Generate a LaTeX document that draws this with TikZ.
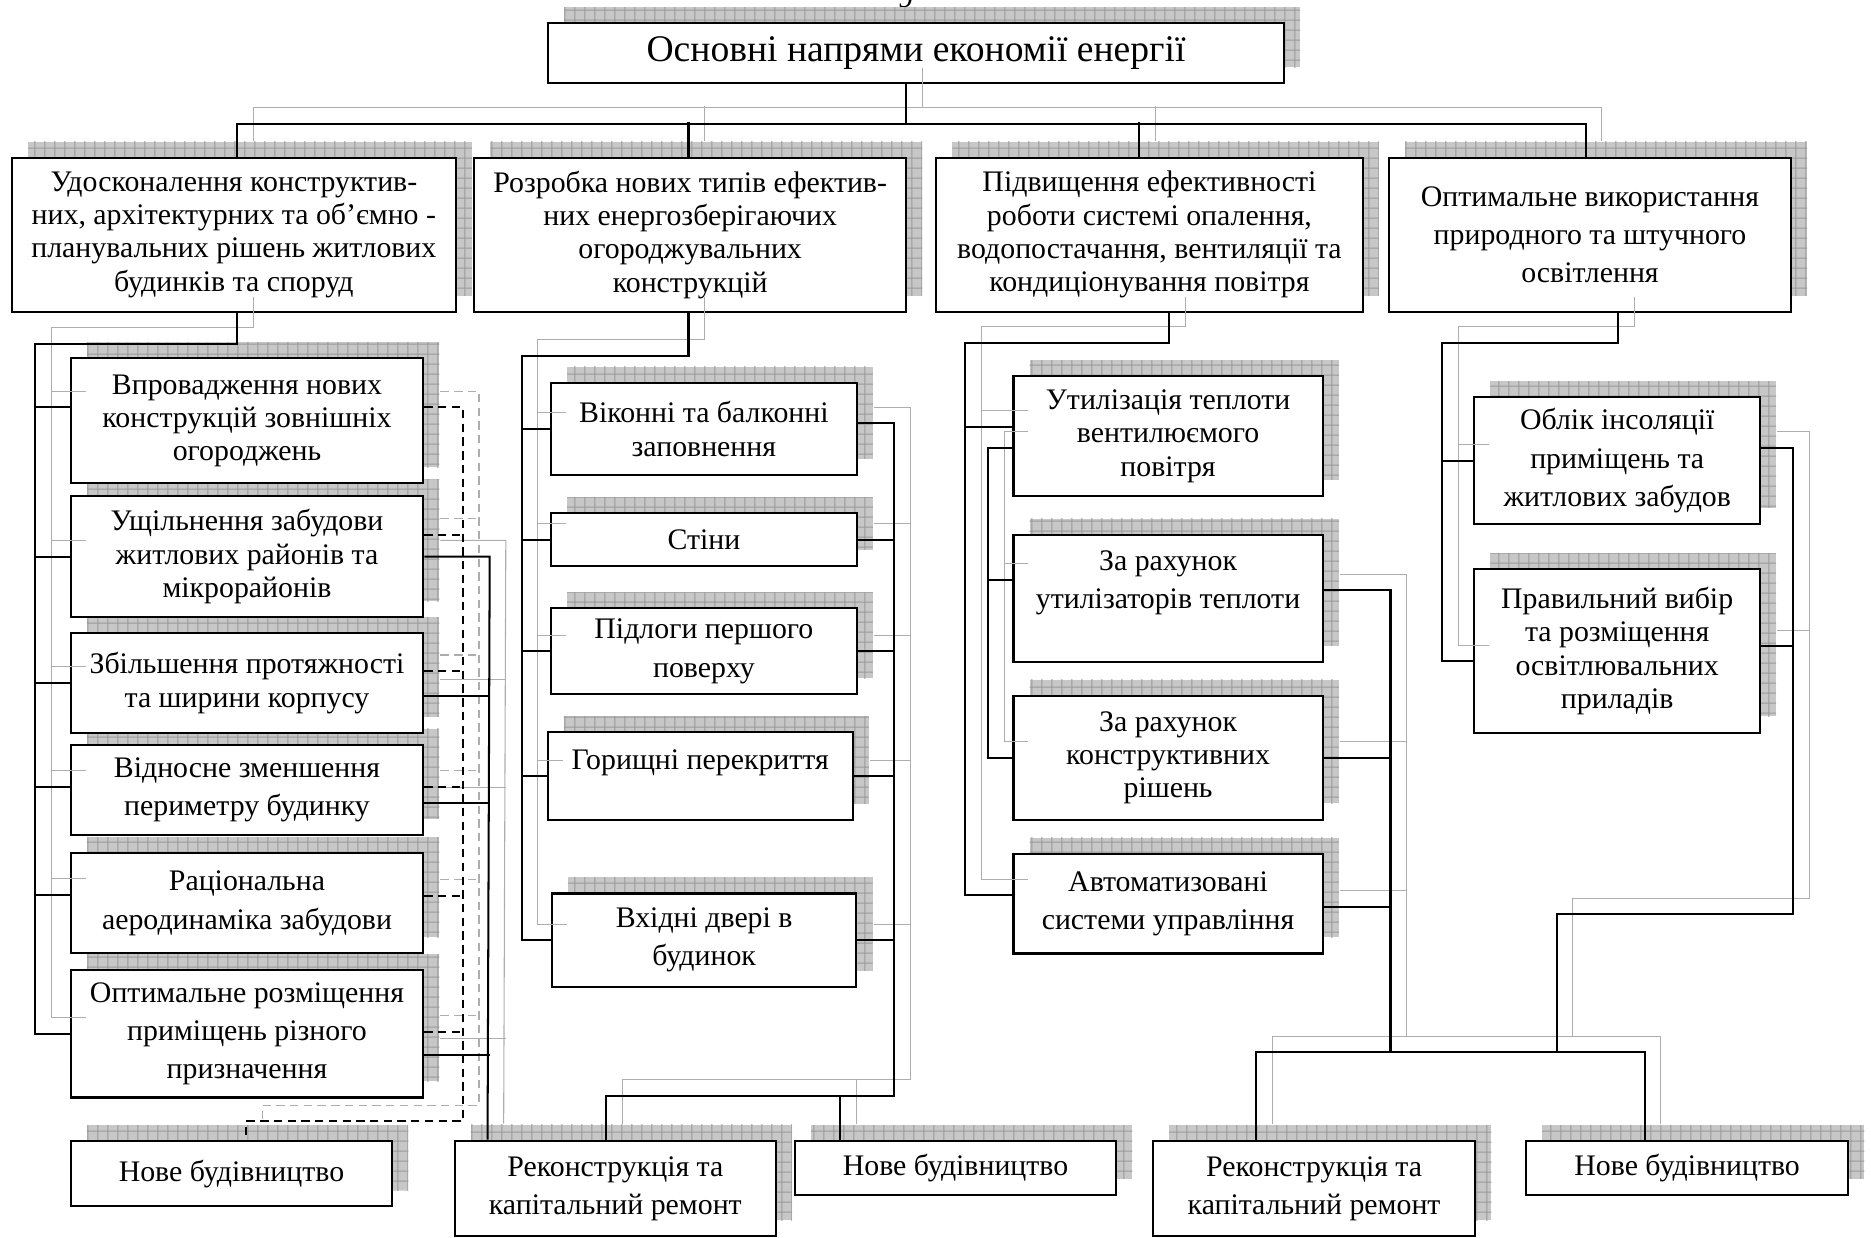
\documentclass[tikz,border=0pt]{standalone}
\usepackage{fontspec}
\setmainfont{Liberation Serif}
\usetikzlibrary{shadows, patterns.meta}

\newcommand\bodyfont{\fontsize{25}{28}\selectfont}
\newcommand\loosefont{\fontsize{25}{32}\selectfont}
\newcommand\titlefont{\fontsize{31.5}{36}\selectfont}

% darker grid inside the box shadows
\tikzdeclarepattern{
  name=shadegrid,
  type=uncolored,
  bounding box={(0pt,0pt) and (8.7pt,8.7pt)},
  tile size={(8.7pt,8.7pt)},
  code={\draw[line width=0.8pt] (0pt,4.35pt) -- (8.7pt,4.35pt) (4.35pt,0pt) -- (4.35pt,8.7pt);}
}

% all connectors, drawn twice (grey shadow copy, then black)
\newcommand\diagramlinks{%
  % title to the four directions
  \draw[conn] ([xshift=-8.1pt]T.south) -- ++(0,32.9) coordinate (tb);
  \draw[conn] ([xshift=2.7pt]A.north) |- (tb) -| ([xshift=-3.5pt]D.north);
  \draw[conn] ([xshift=-1.4pt]B.north) -- ++(0,-29.3);
  \draw[conn] ([xshift=-8.8pt]C.north) -- ++(0,-29.3);

  % first column, left trunk
  \draw[conn] ([xshift=2.7pt]A.south) -- ++(0,25.8) -| ([xshift=-28.8pt]a6.west) -- (a6.west);
  \draw[conn] ([xshift=-28.8pt,yshift=11.3pt]a1.west) -- ([yshift=11.3pt]a1.west);
  \draw[conn] (a2.west) -- ++(-28.8,0); \draw[conn] (a3.west) -- ++(-28.8,0);
  \draw[conn] ([yshift=2.8pt]a4.west) -- ++(-28.8,0); \draw[conn] ([yshift=7pt]a5.west) -- ++(-28.8,0);

  % first column, dashed to new building
  \draw[dconn] ([yshift=11.3pt]a1.east) -- ++(32.3,0) |- ([xshift=12.5pt,yshift=15.7pt]nA.north) -- ([xshift=12.5pt]nA.north);
  \draw[dconn] ([yshift=18pt]a2.east) -- ++(32.3,0); \draw[dconn] ([yshift=10pt]a3.east) -- ++(32.3,0);
  \draw[dconn] ([yshift=2.8pt]a4.east) -- ++(32.3,0); \draw[dconn] ([yshift=6.5pt]a5.east) -- ++(32.3,0);
  \draw[dconn] ([yshift=1.8pt]a6.east) -- ++(32.3,0);

  % first column, solid to reconstruction
  \draw[conn] (a2.east) -- ++(54.8,0) -- ([xshift=28.5pt]rA.north west);
  \draw[conn] ([yshift=-10.6pt]a3.east) -- ++(54.8,0); \draw[conn] ([yshift=-11.2pt]a4.east) -- ++(54.8,0);
  \draw[conn] ([yshift=-17.6pt]a6.east) -- ++(54.8,0);

  % second column
  \draw[conn] ([xshift=-1.4pt]B.south) -- ++(0,36) -| ([xshift=-24.4pt]b5.west) -- (b5.west);
  \draw[conn] (b1.west) -- ++(-23.7,0); \draw[conn] (b2.west) -- ++(-23.7,0);
  \draw[conn] (b3.west) -- ++(-23.7,0); \draw[conn] (b4.west) -- ++(-20.9,0);
  \draw[conn] ([yshift=4.6pt]b1.east) -- ++(30.7,0) |- ([xshift=-7.7pt,yshift=37pt]rA.north) -- ([xshift=-7.7pt]rA.north);
  \draw[conn] ([xshift=39pt]nB.north west) -- ++(0,-37.3);
  \draw[conn] (b2.east) -- ++(30.7,0); \draw[conn] (b3.east) -- ++(30.7,0);
  \draw[conn] (b4.east) -- ++(34.1,0); \draw[conn] (b5.east) -- ++(31,0);

  % third column
  \draw[conn] ([xshift=16.4pt]C.south) -- ++(0,25) -| ([xshift=-39.3pt,yshift=7pt]c4.west) -- ([yshift=7pt]c4.west);
  \draw[conn] ([yshift=7.8pt]c1.west) -- ++(-39.3,0);
  \draw[conn] ([yshift=-9.7pt]c1.west) -- ++(-20.3,0) |- (c3.west);
  \draw[conn] ([yshift=15.5pt]c2.west) -- ++(-20.3,0);
  \draw[conn] ([yshift=6.9pt]c2.east) -- ++(55.9,0) |- ([xshift=-48.4pt,yshift=73.5pt]rC.north) coordinate (jR) -- ([xshift=-48.4pt]rC.north);
  \draw[conn] (jR) -| ([xshift=-35.5pt]nC.north);
  \draw[conn] (c3.east) -- ++(55.9,0); \draw[conn] ([yshift=-2.3pt]c4.east) -- ++(55.9,0);

  % fourth column
  \draw[conn] ([xshift=23.8pt]D.south) -- ++(0,25) -| ([xshift=-26pt,yshift=-8.8pt]d2.west) -- ([yshift=-8.8pt]d2.west);
  \draw[conn] (d1.west) -- ++(-26,0);
  \draw[conn] ([yshift=10.7pt]d1.east) -- ++(27,0) -- ++(0,391) -| (dj |- jR);
  \draw[conn] ([yshift=3.8pt]d2.east) -- ++(27,0);
}

\begin{document}
\begin{tikzpicture}[x=1pt, y=-1pt,
    box/.style={draw, line width=1.8pt, fill=white, align=center, inner sep=0pt, font=\bodyfont,
      general shadow={shadow xshift=13.5pt, shadow yshift=13.5pt, fill=black!22},
      general shadow={shadow xshift=13.5pt, shadow yshift=13.5pt, pattern=shadegrid, pattern color=black!40}},
    conn/.style={line width=1.7pt},
    dconn/.style={conn, dash pattern=on 7pt off 4.5pt}]
    \useasboundingbox (0,0) rectangle (1568,1036.7);

    % page number, mostly cut off
    \node[font=\bodyfont, anchor=base] (pg) at (759,6) {9};

    % title and the four directions
    \node[box, font=\titlefont, minimum width=616.7pt, minimum height=50.3pt] (T) at (767.7,44.7) {Основні напрями економії енергії};
    \node[box, minimum width=372pt, minimum height=129pt] (A) at (196,196.7) {Удосконалення конструктив-\\них, архітектурних та об’ємно -\\планувальних рішень житлових\\будинків та споруд};
    \node[box, minimum width=362pt, minimum height=129pt] (B) at (578.4,196.7) {Розробка нових типів ефектив-\\них енергозберігаючих\\огороджувальних\\конструкцій};
    \node[box, minimum width=357.5pt, minimum height=129pt] (C) at (963.3,196.7) {Підвищення ефективності\\роботи системі опалення,\\водопостачання, вентиляції та\\кондиціонування повітря};
    \node[box, font=\loosefont, minimum width=337pt, minimum height=129pt] (D) at (1332.5,196.7) {Оптимальне використання\\природного та штучного\\освітлення};

    % first column (bottom first, so upper boxes cover the shadows below)
    \node[box, font=\loosefont, minimum width=295.4pt, minimum height=106.7pt] (a6) at (207,866.4) {Оптимальне розміщення\\приміщень різного\\призначення};
    \node[box, font=\loosefont, minimum width=295.4pt, minimum height=83.8pt] (a5) at (207,757.1) {Раціональна\\аеродинаміка забудови};
    \node[box, font=\loosefont, minimum width=295.4pt, minimum height=75.4pt] (a4) at (207,662.1) {Відносне зменшення\\периметру будинку};
    \node[box, minimum width=295.4pt, minimum height=83.2pt] (a3) at (207,572.4) {Збільшення протяжності\\та ширини корпусу};
    \node[box, minimum width=295.4pt, minimum height=102pt] (a2) at (207,466.4) {Ущільнення забудови\\житлових районів та\\мікрорайонів};
    \node[box, minimum width=295.4pt, minimum height=104.7pt] (a1) at (207,352.7) {Впровадження нових\\конструкцій зовнішніх\\огороджень};

    % second column
    \node[box, font=\loosefont, minimum width=255.2pt, minimum height=78.3pt] (b5) at (590.1,787.9) {Вхідні двері в\\будинок};
    \node[box, minimum width=255.6pt, minimum height=73.4pt] (b4) at (586.8,650.5) {Горищні перекриття\\\mbox{}};
    \node[box, font=\loosefont, minimum width=256.2pt, minimum height=72.1pt] (b3) at (589.9,545.9) {Підлоги першого\\поверху};
    \node[box, minimum width=256.2pt, minimum height=44.2pt] (b2) at (589.9,452.3) {Стіни};
    \node[box, minimum width=256.2pt, minimum height=77.3pt] (b1) at (589.9,359.4) {Віконні та балконні\\заповнення};

    % third column
    \node[box, font=\loosefont, minimum width=259.2pt, minimum height=83.3pt] (c4) at (978.9,757.4) {Автоматизовані\\системи управління};
    \node[box, minimum width=259.2pt, minimum height=103.7pt] (c3) at (978.9,635) {За рахунок\\конструктивних\\рішень};
    \node[box, font=\loosefont, minimum width=259.2pt, minimum height=106.6pt] (c2) at (978.9,501.5) {За рахунок\\утилізаторів теплоти\\\mbox{}};
    \node[box, minimum width=259.2pt, minimum height=100.3pt] (c1) at (978.9,365.6) {Утилізація теплоти\\вентилюємого\\повітря};

    % fourth column
    \node[box, minimum width=239.4pt, minimum height=136.9pt] (d2) at (1355.3,545.5) {Правильний вибір\\та розміщення\\освітлювальних\\приладів};
    \node[box, font=\loosefont, minimum width=239.4pt, minimum height=106.1pt] (d1) at (1355.3,386) {Облік інсоляції\\приміщень та\\житлових забудов};

    % bottom row
    \node[box, minimum width=269.3pt, minimum height=54.5pt] (nA) at (194,983.6) {Нове будівництво};
    \node[box, font=\loosefont, minimum width=269.4pt, minimum height=80pt] (rA) at (515.7,996) {Реконструкція та\\капітальний ремонт};
    \node[box, minimum width=269.5pt, minimum height=45.2pt] (nB) at (800.8,978.9) {Нове будівництво};
    \node[box, font=\loosefont, minimum width=270pt, minimum height=79.7pt] (rC) at (1101.3,996.2) {Реконструкція та\\капітальний ремонт};
    \node[box, minimum width=270.2pt, minimum height=45.2pt] (nC) at (1413.9,978.9) {Нове будівництво};
    \coordinate (dj) at ([xshift=26.7pt]nC.north west);

    % grey shadow copy of the connectors
    \begin{scope}[transform canvas={shift={(13.5pt,13.5pt)}}, conn/.style={black!32, line width=0.9pt}]
      \diagramlinks
    \end{scope}
    % black connectors
    \diagramlinks
\end{tikzpicture}
\end{document}
